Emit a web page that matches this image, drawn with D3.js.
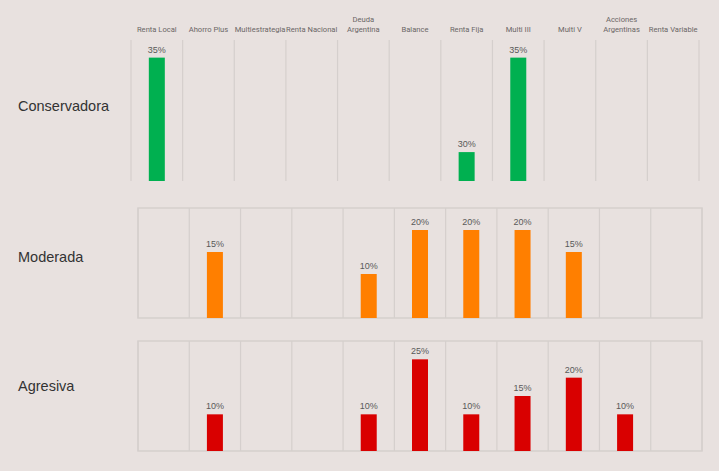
<!DOCTYPE html>
<html>
<head>
<meta charset="utf-8">
<script src="https://cdn.jsdelivr.net/npm/d3@7"></script>
<style>
  html, body { margin: 0; padding: 0; background: #e8e1df; }
  svg { display: block; }
</style>
</head>
<body>
<svg id="chart" width="719" height="471"></svg>
<script>
// fondos (columnas)
const fondos = ["Renta Local", "Ahorro Plus", "Multiestrategia", "Renta Nacional",
  "Deuda\nArgentina", "Balance", "Renta Fija", "Multi III", "Multi V",
  "Acciones\nArgentinas", "Renta Variable"];

// perfiles
const perfiles = ["Conservadora", "Moderada", "Agresiva"];

// alturas de barra tal como se ven (la de Renta Fija en Conservadora es corta en el original)
const conservadora = [35, 0, 0, 0, 0, 0, 8.2, 35, 0, 0, 0];
const conservadoraEtiq = ["35%", "", "", "", "", "", "30%", "35%", "", "", ""];
const moderada = [0, 15, 0, 0, 10, 20, 20, 20, 15, 0, 0];
const agresiva = [0, 10, 0, 0, 10, 25, 10, 15, 20, 10, 0];

const colores = ["#00b050", "#ff7f00", "#d90000"];
const maximos = [40, 25, 30];

const svg = d3.select("#chart");

// paneles
const paneles = [
  {x0: 131, x1: 699, y0: 40, y1: 181, borde: false},
  {x0: 138, x1: 702, y0: 208, y1: 318, borde: true},
  {x0: 138, x1: 702, y0: 341, y1: 451, borde: true}
];
const series = [conservadora, moderada, agresiva];
const etiquetas = [
  conservadoraEtiq,
  moderada.map(v => v ? v + "%" : ""),
  agresiva.map(v => v ? v + "%" : "")
];
const baseRotulo = [111, 262, 391];

paneles.forEach((p, k) => {
  const x = d3.scaleBand().domain(fondos).range([p.x0, p.x1]).padding(0);
  const y = d3.scaleLinear().domain([0, maximos[k]]).range([p.y1, p.y0]);
  const g = svg.append("g");

  if (p.borde) {
    g.append("rect")
      .attr("x", p.x0).attr("y", p.y0)
      .attr("width", p.x1 - p.x0).attr("height", p.y1 - p.y0)
      .attr("fill", "none").attr("stroke", "#d5cfcd").attr("stroke-width", 1.5);
  }
  // separadores verticales
  g.selectAll(".sep").data(fondos.concat(["fin"])).enter()
    .append("line")
    .attr("x1", (d, i) => i < fondos.length ? x(d) : p.x1)
    .attr("x2", (d, i) => i < fondos.length ? x(d) : p.x1)
    .attr("y1", p.y0).attr("y2", p.y1)
    .attr("stroke", "#d5cfcd").attr("stroke-width", 1.2);

  const datos = fondos.map((f, i) => ({f: f, v: series[k][i], t: etiquetas[k][i]}))
    .filter(d => d.v > 0);
  const bw = 16;

  g.selectAll(".bar").data(datos).enter()
    .append("rect")
    .attr("x", d => x(d.f) + x.bandwidth() / 2 - bw / 2)
    .attr("y", d => y(d.v))
    .attr("width", bw)
    .attr("height", d => y(0) - y(d.v))
    .attr("fill", colores[k]);

  g.selectAll(".lbl").data(datos).enter()
    .append("text")
    .attr("x", d => x(d.f) + x.bandwidth() / 2)
    .attr("y", d => y(d.v) - 5)
    .attr("text-anchor", "middle")
    .attr("font-family", "Liberation Sans, Arial, sans-serif")
    .attr("font-size", 9)
    .attr("fill", "#595959")
    .text(d => d.t);

  svg.append("text")
    .attr("x", 18).attr("y", baseRotulo[k])
    .attr("font-family", "Liberation Sans, Arial, sans-serif")
    .attr("font-size", 14.5)
    .attr("fill", "#333")
    .text(perfiles[k]);
});

// encabezados de columna
const xh = d3.scaleBand().domain(fondos).range([paneles[0].x0, paneles[0].x1]);
svg.selectAll(".hdr").data(fondos).enter()
  .append("text")
  .attr("text-anchor", "middle")
  .attr("font-family", "Roboto, sans-serif")
  .attr("font-size", 7.6)
  .attr("fill", "#6b6666")
  .each(function(d) {
    const lineas = d.split("\n");
    d3.select(this).selectAll("tspan").data(lineas).enter()
      .append("tspan")
      .attr("x", xh(d) + xh.bandwidth() / 2)
      .attr("y", (l, i) => 32 - (lineas.length - 1 - i) * 10)
      .text(l => l);
  });
</script>
</body>
</html>
